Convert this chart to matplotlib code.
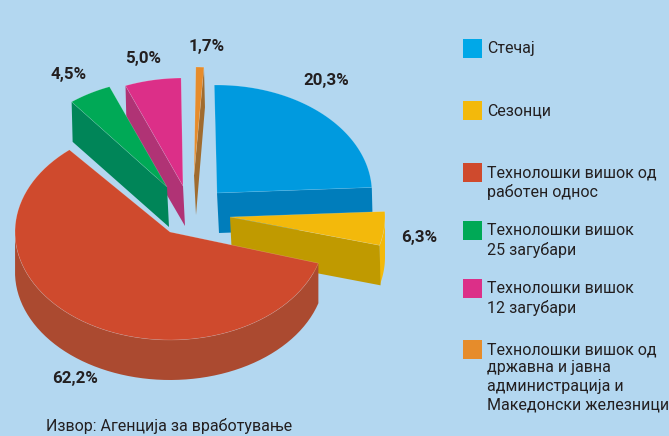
import numpy as np
import matplotlib
matplotlib.use('Agg')
import matplotlib.pyplot as plt
from matplotlib.patches import Polygon, Rectangle

names = ['Стечај', 'Сезонци', 'Технолошки вишок од\nработен однос', 'Технолошки вишок\n25 загубари',
         'Технолошки вишок\n12 загубари', 'Технолошки вишок од\nдржавна и јавна\nадминистрација и\nМакедонски железници']
values = [20.3, 6.3, 62.2, 4.5, 5.0, 1.7]
source = 'Извор: Агенција за вработување'

top_colors = ['#009ADF', '#F3B90B', '#CF4A2D', '#00A956', '#DC2F88', '#E68C2B']
side_colors = ['#007DBB', '#C09A00', '#AB4A30', '#008558', '#B03375', '#A06C2F']
legend_colors = ['#00A8E8', '#F3B90B', '#CF4A2D', '#00A956', '#DC2F88', '#E68C2B']

# drawing setup, all in pixels of the 669x436 picture
bg = '#B3D7F0'
rx, ry, depth = 155, 108, 40
start = -1
stretch = [1.205, 0.80, 0.95, 1.0, 1.17, 0.49]     # the original perspective bends the angles
gap = [0, 0, 1.6, 2.5, 0, 1.4]
apex = [(217, 193), (230, 217), (170, 232), (167, 187), (183, 186), (194, 175)]
cut_side = ['end', 'end', None, 'start', 'start', 'end']
label_pos = [(326, 81), (419, 237), (75, 378), (69, 74), (143, 59), (207, 46)]
legend_y = [39, 101, 163, 221, 279, 340]
draw_order = [5, 4, 3, 0, 1, 2]

plt.rcParams['font.family'] = ['Roboto', 'Liberation Sans']
fig = plt.figure(figsize=(6.69, 4.36), dpi=100, facecolor=bg)
ax = fig.add_axes([0, 0, 1, 1])
ax.set_xlim(0, 669)
ax.set_ylim(436, 0)
ax.axis('off')


def rim_point(c, a):
    a = np.radians(a)
    return c[0] + rx * np.sin(a), c[1] - ry * np.cos(a)


sweeps = np.array(values) * 3.6 * np.array(stretch)
ends = start + np.cumsum(sweeps) + np.cumsum(gap)
starts = ends - sweeps

for i in draw_order:
    c = apex[i]
    a = np.linspace(starts[i], ends[i], 80)
    x, y = rim_point(c, a)

    # outer wall, only the part that faces the viewer
    vis = a[(a >= 90) & (a <= 270)]
    if len(vis) > 1:
        wx, wy = rim_point(c, vis)
        wall = list(zip(wx, wy)) + list(zip(wx[::-1], wy[::-1] + depth))
        wall_color = top_colors[i] if i == 1 else side_colors[i]
        ax.add_patch(Polygon(wall, fc=wall_color, ec='none', zorder=2))

    # cut face
    if cut_side[i]:
        edge = ends[i] if cut_side[i] == 'end' else starts[i]
        ex, ey = rim_point(c, edge)
        face = [c, (ex, ey), (ex + 1, ey + depth), (c[0] + 2, c[1] + depth)]
        ax.add_patch(Polygon(face, fc=side_colors[i], ec='none', zorder=2))

    top = [c] + list(zip(x, y))
    ax.add_patch(Polygon(top, fc=top_colors[i], ec='#FFFFFF40', lw=0.4, zorder=2))

for val, pos in zip(values, label_pos):
    ax.text(pos[0], pos[1], f'{val:.1f}%'.replace('.', ','), ha='center', va='center',
            fontsize=12.2, fontweight='bold', color='#231F20')

for name, col, y in zip(names, legend_colors, legend_y):
    ax.add_patch(Rectangle((463, y), 19, 19, fc=col, ec='none'))
    ax.text(487, y + 2, name, ha='left', va='top', fontsize=11.5, color='#231F20', linespacing=1.28)

ax.text(46, 426, source, ha='left', va='center', fontsize=11.5, color='#231F20')

fig.savefig('out.png', dpi=100, facecolor=bg)
